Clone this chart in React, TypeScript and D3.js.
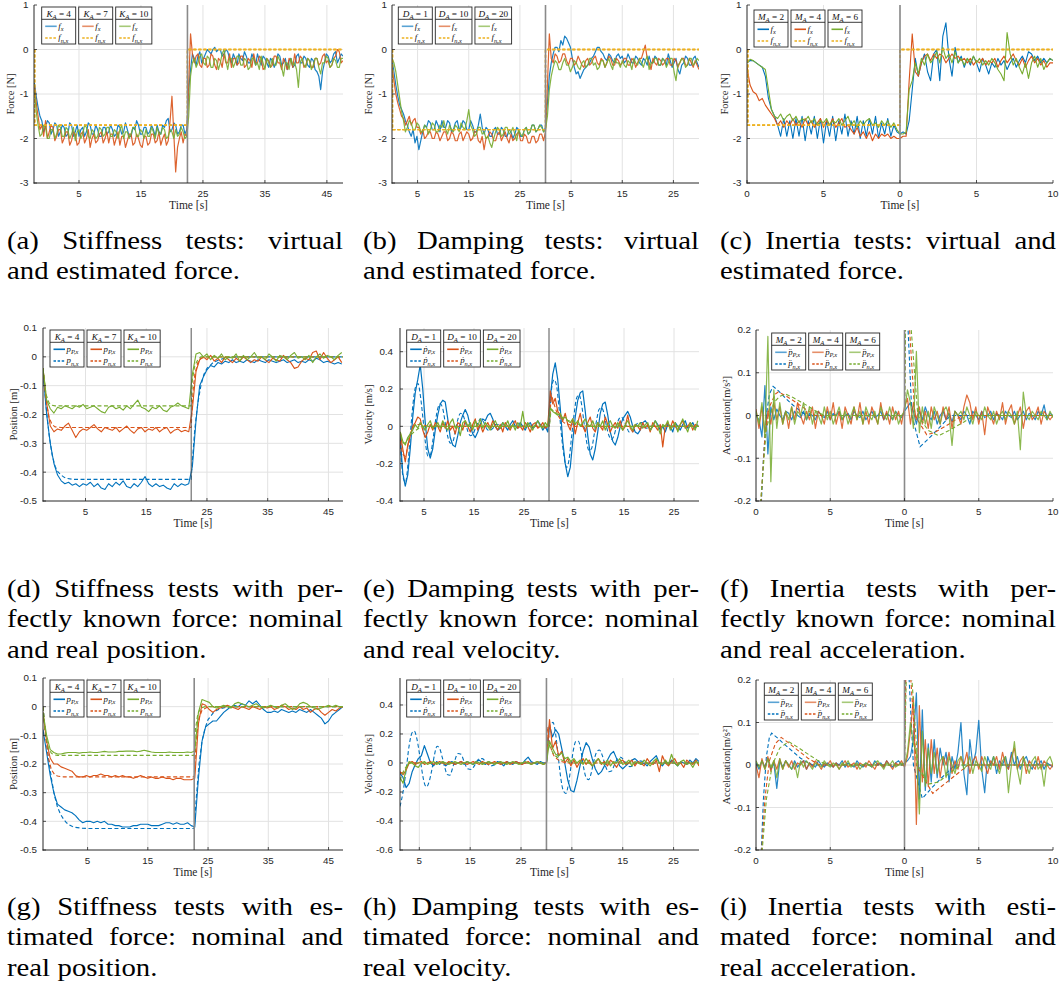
import React, { useEffect, useRef } from 'react';
import * as d3 from 'd3';

const BLUE = '#0072BD', ORANGE = '#D95319', YELLOW = '#EDB120', GREEN = '#77AC30';
const SERIF = '"Liberation Serif", "Times New Roman", serif';
const SANS = '"Liberation Sans", Arial, Helvetica, sans-serif';

// ---------- tick values / labels ----------
const xTicksLong = [5, 15, 25, 35, 45];
const xTickLabelsLong = ['5', '15', '25', '35', '45'];
const xTicksD = [5, 15, 25, 35, 45, 55];
const xTickLabelsD = ['5', '15', '25', '5', '15', '25'];
const xTicksM = [0, 5, 10, 15, 20];
const xTickLabelsM = ['0', '5', '0', '5', '10'];
const yTicksForce = [-3, -2, -1, 0, 1];
const yTicksPos = [-0.5, -0.4, -0.3, -0.2, -0.1, 0, 0.1];
const yTicksVelE = [-0.4, -0.2, 0, 0.2, 0.4];
const yTicksVelH = [-0.6, -0.4, -0.2, 0, 0.2, 0.4];
const yTicksAcc = [-0.2, -0.1, 0, 0.1, 0.2];

// switching instants (s)
const switchTimes = [22.5, 30, 10, 22.4, 30, 10, 22.7, 30, 10];
// legend parameter values
const kValues = [4, 7, 10];
const dValues = [1, 10, 20];
const mValues = [2, 4, 6];

// ---------- sampling [t0, dt] of measured series ----------
const sampA = [-2.2, 0.3];
const sampB = [0, 0.375];
const sampC = [0, 0.2];
const sampD = [-2, 0.6];
const sampE = [0.25, 0.5];
const sampF = [0, 0.2];
const sampG = [-2.4, 0.6];
const sampH = [1.2, 0.6];
const sampI = [0, 0.2];

// ---------- (a) stiffness, force ----------
const aBlue = [-0.75,-1.05,-1.3,-1.5,-1.6,-1.85,-1.75,-1.6,-1.65,-1.9,-1.8,-1.65,-1.7,-1.95,-1.85,-1.7,-1.75,-1.95,-1.9,-1.65,
 -1.7,-1.95,-1.85,-1.7,-1.95,-1.8,-1.75,-1.95,-1.85,-1.65,-1.7,-1.9,-1.9,-1.7,-1.8,-1.95,-1.95,-1.75,-1.75,-1.9,
 -1.85,-1.7,-1.8,-1.95,-1.9,-1.7,-1.75,-1.9,-1.85,-1.65,-1.8,-1.95,-1.95,-1.75,-1.8,-1.6,-1.7,-1.9,-1.9,-1.75,
 -1.75,-1.9,-1.85,-1.7,-1.8,-1.95,-1.7,-1.85,-1.9,-1.7,-1.75,-1.6,-1.55,-1.85,-1.8,-1.65,-1.7,-1.9,-1.85,-1.7,
 -1.7,-1.9,-1.8,-0.9,-0.45,-0.1,-0.2,-0.35,-0.15,-0.05,-0.3,-0.2,-0.1,0.0,-0.05,-0.1,0.0,0.05,-0.05,0.0,
 0.0,-0.15,-0.1,0.0,-0.05,-0.2,-0.3,-0.1,-0.2,-0.35,-0.1,-0.2,-0.25,-0.05,-0.15,-0.3,-0.3,-0.1,-0.2,-0.35,
 -0.1,-0.25,-0.35,-0.15,-0.2,-0.3,-0.4,-0.2,-0.25,-0.4,-0.3,-0.1,-0.15,-0.35,-0.3,-0.2,-0.45,-0.25,-0.2,-0.4,
 -0.35,-0.15,-0.1,-0.3,-0.3,-0.15,-0.2,-0.35,-0.4,-0.2,-0.25,-0.45,-0.5,-0.6,-0.9,-0.5,-0.3,-0.1,-0.15,-0.3,
 -0.25,-0.1,-0.05,-0.3,-0.2,-0.1,-0.15];
const aOrange = [-0.8,-1.2,-1.5,-1.8,-1.7,-1.95,-1.6,-2.0,-1.85,-1.7,-1.75,-2.05,-1.95,-1.8,-1.8,-2.1,-2.0,-1.85,-1.85,-2.15,
 -2.05,-1.85,-1.9,-2.15,-2.1,-1.9,-1.85,-2.1,-2.0,-1.8,-2.2,-2.0,-1.9,-2.1,-2.05,-1.9,-1.85,-2.1,-2.0,-1.85,
 -2.1,-1.9,-1.9,-2.15,-2.0,-1.85,-2.15,-1.95,-1.95,-2.2,-2.05,-1.9,-1.9,-2.15,-2.1,-1.9,-2.0,-2.15,-2.2,-1.95,
 -1.95,-2.15,-2.1,-1.9,-1.9,-2.1,-2.05,-1.85,-2.15,-2.0,-1.9,-2.15,-2.05,-1.6,-1.05,-1.9,-2.75,-2.2,-2.0,-1.85,
 -2.1,-1.9,-1.95,-0.8,0.35,-0.1,-0.3,-0.15,-0.1,-0.35,-0.4,-0.2,-0.2,-0.4,-0.35,-0.1,-0.15,-0.35,-0.45,-0.2,
 -0.25,-0.4,-0.1,-0.3,-0.3,-0.1,-0.4,-0.2,-0.2,-0.35,-0.3,-0.15,-0.15,-0.4,-0.35,-0.2,-0.25,-0.4,-0.1,-0.3,
 -0.3,-0.15,-0.2,-0.45,-0.4,-0.2,-0.25,-0.4,-0.35,-0.15,-0.15,-0.3,-0.3,-0.45,-0.2,-0.3,-0.45,-0.2,-0.25,-0.4,
 -0.1,-0.3,-0.3,-0.15,-0.2,-0.4,-0.35,-0.2,-0.25,-0.4,-0.4,-0.2,-0.2,-0.35,-0.3,-0.15,-0.1,-0.3,-0.25,-0.4,
 -0.35,-0.2,-0.15,0.0,-0.05,-0.3,-0.25];
const aGreen = [-0.9,-1.4,-1.7,-1.95,-1.9,-1.7,-1.75,-2.0,-2.0,-1.8,-1.8,-2.0,-1.9,-1.7,-1.75,-1.95,-1.95,-1.75,-1.8,-2.0,
 -1.9,-1.75,-2.05,-1.85,-1.8,-2.0,-1.9,-1.7,-1.75,-1.95,-2.0,-1.8,-1.85,-2.0,-1.95,-1.75,-1.8,-1.95,-1.9,-1.75,
 -1.75,-1.95,-1.95,-1.8,-1.85,-2.0,-1.8,-1.7,-2.0,-1.85,-1.85,-2.0,-1.9,-1.75,-1.75,-1.95,-1.95,-1.8,-1.85,-2.0,
 -1.8,-1.95,-1.95,-1.75,-1.85,-2.0,-1.75,-1.9,-1.9,-1.75,-1.8,-2.0,-1.95,-1.8,-1.85,-2.0,-1.8,-1.95,-1.9,-1.75,
 -1.85,-2.0,-1.95,-1.5,-0.6,-0.3,-0.2,-0.4,-0.3,-0.15,-0.1,-0.3,-0.35,-0.15,-0.2,-0.4,-0.4,-0.2,-0.25,-0.45,
 -0.3,-0.1,0.0,-0.25,-0.45,-0.2,-0.2,-0.4,-0.3,-0.15,-0.15,-0.35,-0.35,-0.2,-0.25,-0.45,-0.4,-0.2,-0.2,-0.35,
 -0.3,-0.45,-0.15,-0.3,-0.45,-0.2,-0.3,-0.4,-0.2,-0.35,-0.35,-0.15,-0.25,-0.4,-0.6,-0.3,-0.3,-0.45,-0.2,-0.35,
 -0.3,-0.45,-0.85,-0.3,-0.2,-0.35,-0.4,-0.2,-0.25,-0.45,-0.35,-0.2,-0.2,-0.4,-0.55,-0.3,-0.3,-0.15,-0.2,-0.4,
 -0.35,-0.2,-0.25,-0.4,-0.4,-0.2,-0.2];
const aNominal = [[-2.15, 0], [-2.15, -1.7], [22.5, -1.7], [22.5, 0], [47.6, 0]];

// ---------- (b) damping, force ----------
const bBlue = [-0.2,-0.5,-0.8,-1.05,-1.25,-1.35,-1.45,-1.6,-1.7,-1.85,-1.95,-1.8,-2.1,-1.95,-2.25,-2.05,-1.85,-1.7,-1.75,-1.6,
 -1.65,-1.8,-1.8,-1.6,-1.7,-1.85,-1.6,-1.75,-1.75,-1.6,-1.65,-1.85,-1.8,-1.65,-1.6,-1.8,-1.75,-1.6,-1.65,-1.8,
 -1.8,-1.6,-1.7,-1.85,-1.85,-1.7,-1.45,-1.75,-1.9,-1.75,-1.8,-1.95,-1.95,-1.8,-1.75,-1.9,-1.9,-1.75,-1.8,-1.95,
 -1.95,-1.8,-1.85,-2.0,-1.9,-1.75,-1.8,-1.95,-1.95,-1.8,-1.75,-1.9,-1.85,-1.7,-1.7,-1.85,-1.8,-1.7,-1.7,-1.85,
 -1.75,-1.2,-0.6,-0.3,-0.1,0.05,0.05,-0.05,0.2,0.1,0.3,0.25,0.15,0.05,-0.2,-0.4,-0.55,-0.5,-0.65,-0.55,
 -0.45,-0.4,-0.35,-0.3,-0.2,-0.15,-0.05,0.05,0.05,-0.05,-0.1,-0.2,-0.25,-0.1,-0.15,-0.25,-0.3,-0.15,-0.1,-0.2,
 -0.15,-0.3,-0.25,-0.1,-0.2,-0.3,-0.3,-0.15,-0.2,-0.3,-0.35,-0.2,-0.25,-0.35,-0.15,-0.3,-0.3,-0.15,-0.2,-0.35,
 -0.35,-0.2,-0.25,-0.35,-0.1,-0.25,-0.4,-0.3,-0.2,-0.45,-0.55,-0.35,-0.3,-0.15,-0.2,-0.35,-0.35,-0.2,-0.15,-0.3,
 -0.4];
const bOrange = [-0.4,-0.7,-1.0,-1.2,-1.35,-1.5,-1.55,-1.7,-1.6,-1.5,-1.7,-1.6,-1.55,-1.75,-1.75,-1.9,-1.8,-2.0,-1.95,-1.85,
 -1.85,-2.0,-2.0,-1.85,-1.9,-2.05,-1.95,-1.85,-1.85,-2.05,-2.0,-1.85,-1.9,-2.05,-2.05,-1.9,-1.85,-2.05,-1.95,-1.85,
 -1.9,-2.05,-2.0,-1.85,-1.85,-2.05,-2.1,-1.95,-2.25,-2.0,-1.95,-1.85,-1.9,-2.05,-2.05,-1.9,-1.85,-2.05,-1.95,-1.85,
 -2.0,-2.1,-1.9,-2.05,-2.0,-1.9,-1.85,-2.05,-2.05,-1.9,-1.95,-2.1,-2.1,-1.95,-1.95,-2.1,-2.05,-1.9,-1.9,-2.05,
 -1.85,-0.8,0.35,-0.2,-0.3,-0.1,-0.15,-0.3,-0.25,-0.1,-0.1,-0.25,-0.35,-0.2,-0.2,-0.35,-0.3,-0.15,-0.25,-0.35,
 -0.4,-0.25,-0.2,-0.35,-0.3,-0.2,-0.15,-0.3,-0.35,-0.2,-0.25,-0.4,-0.3,-0.15,-0.2,-0.35,-0.35,-0.2,-0.25,-0.35,
 -0.3,-0.2,-0.2,-0.35,-0.35,-0.2,-0.25,-0.4,-0.3,-0.2,-0.2,-0.05,0.1,-0.2,-0.3,-0.45,-0.2,-0.3,-0.35,-0.2,
 -0.25,-0.35,-0.3,-0.2,-0.2,-0.35,-0.35,-0.2,-0.25,-0.4,-0.3,-0.2,-0.2,-0.35,-0.35,-0.2,-0.3,-0.4,-0.25,-0.35,
 -0.45];
const bGreen = [-0.2,-0.3,-0.5,-0.8,-1.1,-1.4,-1.6,-1.85,-1.75,-1.6,-1.65,-1.8,-1.8,-1.65,-1.7,-1.85,-1.85,-1.7,-1.75,-1.9,
 -1.8,-1.65,-1.7,-1.85,-1.85,-1.7,-1.75,-1.6,-1.8,-1.9,-1.7,-1.8,-1.85,-1.7,-1.75,-1.85,-1.65,-1.75,-1.8,-1.6,
 -1.35,-1.7,-1.8,-1.95,-1.9,-1.75,-1.75,-1.9,-1.85,-2.0,-1.95,-2.1,-2.2,-2.0,-1.85,-1.75,-1.8,-1.95,-1.9,-1.75,
 -1.75,-1.9,-1.85,-1.75,-1.9,-2.05,-1.8,-1.9,-1.95,-1.8,-1.75,-1.9,-1.85,-1.7,-1.7,-1.85,-1.8,-1.7,-1.75,-1.85,
 -1.8,-1.5,-0.9,-0.6,-0.4,-0.25,-0.3,-0.45,-0.45,-0.3,-0.2,-0.35,-0.35,-0.5,-0.4,-0.25,-0.3,-0.4,-0.45,-0.3,
 -0.25,-0.4,-0.35,-0.2,-0.2,-0.35,-0.3,-0.45,-0.4,-0.25,-0.25,-0.4,-0.3,-0.2,-0.35,-0.45,-0.2,-0.3,-0.3,-0.4,
 -0.25,-0.35,-0.4,-0.25,-0.3,-0.45,-0.2,-0.3,-0.35,-0.2,-0.3,-0.4,-0.25,-0.15,-0.45,-0.3,-0.3,-0.2,-0.2,-0.35,
 -0.35,-0.2,-0.25,-0.4,-0.3,-0.2,-0.2,-0.5,-0.7,-0.35,-0.3,-0.2,-0.25,-0.4,-0.35,-0.2,-0.2,-0.35,-0.3,-0.2,
 -0.25];
const bNominal = [[0.1, 0], [0.1, -1.8], [30, -1.8], [30, 0], [60, 0]];

// ---------- (c) inertia, force ----------
const cBlue = [-0.3,-0.25,-0.25,-0.3,-0.35,-0.4,-0.6,-1.1,-1.35,-1.5,
 -1.7,-1.95,-1.55,-1.95,-1.6,-2.0,-1.55,-1.95,-1.5,-2.05,
 -1.6,-1.9,-1.5,-2.0,-1.55,-2.1,-1.6,-1.95,-1.5,-2.05,
 -1.6,-1.9,-1.45,-1.95,-1.6,-1.9,-1.5,-2.0,-1.6,-1.95,
 -1.55,-1.9,-1.5,-2.0,-1.65,-1.9,-1.55,-1.95,-1.7,-1.85,
 -1.9,-1.85,-1.9,-1.6,-0.9,-0.2,-0.6,-0.3,-0.1,-0.5,
 -0.7,-0.1,0.0,-0.7,0.3,0.6,-0.2,-0.6,0.05,-0.3,
 -0.15,-0.4,-0.2,-0.35,-0.15,-0.3,-0.5,-0.2,-0.35,-0.55,
 -0.3,-0.4,-0.2,-0.35,-0.25,-0.45,-0.3,-0.2,-0.4,-0.25,
 -0.15,-0.3,-0.05,-0.1,-0.25,-0.15,-0.3,-0.2,-0.3,-0.2,
 -0.25];
const cOrange = [-0.4,-0.8,-0.95,-1.0,-1.15,-1.1,-1.25,-1.35,-1.45,-1.55,
 -1.7,-1.6,-1.75,-1.6,-1.7,-1.55,-1.7,-1.6,-1.75,-1.55,
 -1.7,-1.6,-1.75,-1.65,-1.55,-1.75,-1.6,-1.7,-1.55,-1.75,
 -1.65,-1.55,-1.75,-1.7,-1.8,-1.9,-1.75,-1.95,-1.85,-2.0,
 -1.85,-2.05,-1.9,-2.0,-1.9,-1.95,-1.9,-2.0,-1.95,-2.0,
 -2.0,-1.95,-1.95,-0.7,0.35,-0.5,-0.6,-0.3,-0.15,-0.1,
 -0.25,-0.1,-0.2,-0.1,-0.15,-0.3,-0.2,-0.1,-0.2,-0.15,
 -0.25,-0.2,-0.3,-0.2,-0.35,-0.25,-0.3,-0.2,-0.35,-0.25,
 -0.3,-0.2,-0.4,-0.25,-0.15,-0.3,-0.2,-0.1,-0.25,-0.35,
 -0.2,-0.4,-0.25,-0.15,-0.3,-0.2,-0.35,-0.25,-0.4,-0.3,
 -0.3];
const cGreen = [-0.3,-0.22,-0.25,-0.3,-0.35,-0.4,-0.45,-0.9,-1.35,-1.5,
 -1.55,-1.45,-1.6,-1.5,-1.45,-1.6,-1.5,-1.65,-1.55,-1.6,
 -1.5,-1.65,-1.55,-1.7,-1.6,-1.65,-1.55,-1.7,-1.6,-1.65,
 -1.55,-1.7,-1.6,-1.5,-1.7,-1.6,-1.75,-1.6,-1.7,-1.6,
 -1.55,-1.7,-1.65,-1.75,-1.6,-1.7,-1.6,-1.75,-1.65,-1.8,
 -1.9,-1.9,-1.85,-0.9,-0.7,-0.3,-0.55,-0.2,-0.35,-0.1,
 -0.3,-0.2,-0.05,-0.3,0.05,-0.2,-0.1,-0.3,-0.05,-0.3,
 -0.2,-0.35,-0.2,-0.3,-0.15,-0.3,-0.2,-0.35,-0.25,-0.35,
 -0.2,-0.3,-0.45,-0.55,-0.7,0.38,-0.1,-0.35,-0.2,-0.4,
 -0.55,-0.3,-0.65,-0.3,-0.15,-0.4,-0.2,-0.45,-0.3,-0.2,
 -0.25];
const cNominal = [[0.05, 0], [0.05, -1.7], [10, -1.7], [10, 0], [20, 0]];

// ---------- (d) stiffness, position (known force) ----------
const dBlue = [-0.05,-0.2,-0.3,-0.37,-0.41,-0.43,-0.44,-0.435,-0.445,-0.44,
 -0.45,-0.44,-0.445,-0.435,-0.45,-0.44,-0.455,-0.46,-0.44,-0.45,
 -0.435,-0.445,-0.43,-0.45,-0.455,-0.44,-0.45,-0.435,-0.415,-0.44,
 -0.45,-0.44,-0.45,-0.445,-0.455,-0.46,-0.44,-0.45,-0.44,-0.445,
 -0.44,-0.38,-0.22,-0.1,-0.07,-0.045,-0.03,-0.035,-0.02,-0.025,
 -0.015,-0.02,-0.01,-0.02,-0.015,-0.02,-0.01,-0.015,-0.02,-0.01,
 -0.015,-0.02,-0.01,-0.015,-0.02,-0.015,-0.01,-0.02,-0.015,-0.01,
 -0.02,-0.015,-0.02,-0.01,-0.015,-0.005,-0.01,-0.02,-0.015,-0.02,
 -0.025,-0.02,-0.025];
const dOrange = [-0.04,-0.16,-0.24,-0.26,-0.25,-0.255,-0.24,-0.23,-0.255,-0.28,
 -0.26,-0.25,-0.255,-0.245,-0.235,-0.25,-0.26,-0.245,-0.25,-0.255,
 -0.245,-0.26,-0.25,-0.24,-0.255,-0.265,-0.25,-0.245,-0.26,-0.25,
 -0.255,-0.245,-0.26,-0.25,-0.245,-0.265,-0.255,-0.25,-0.26,-0.255,
 -0.26,-0.18,-0.05,-0.01,0.0,-0.01,0.005,-0.015,-0.005,-0.02,
 0.0,-0.01,-0.02,-0.005,-0.015,0.0,-0.01,-0.02,-0.01,-0.015,
 0.0,-0.01,-0.02,-0.005,-0.01,-0.015,0.005,-0.01,-0.02,-0.04,
 -0.035,-0.015,-0.005,-0.01,0.015,0.02,-0.01,0.015,-0.005,-0.02,
 -0.01,0.0,-0.02];
const dGreen = [-0.04,-0.15,-0.18,-0.195,-0.175,-0.18,-0.17,-0.175,-0.18,-0.17,
 -0.175,-0.165,-0.18,-0.175,-0.17,-0.18,-0.19,-0.195,-0.175,-0.17,
 -0.18,-0.175,-0.185,-0.17,-0.18,-0.165,-0.15,-0.175,-0.18,-0.19,
 -0.175,-0.18,-0.17,-0.185,-0.19,-0.175,-0.17,-0.16,-0.17,-0.175,
 -0.18,-0.06,0.01,0.015,0.0,0.01,-0.01,0.005,-0.005,0.01,
 -0.01,0.0,-0.005,0.01,-0.015,0.005,-0.01,0.0,0.015,-0.005,
 0.0,-0.01,0.01,0.0,-0.015,0.005,0.0,-0.01,0.005,0.015,
 -0.005,0.0,-0.01,0.005,-0.02,0.0,0.01,-0.005,0.005,0.0,
 -0.01,0.005,0.015];
const dNomBlue = [[-2,-0.04],[-1.5,-0.17],[-1,-0.27],[-0.5,-0.34],[0,-0.38],[0.5,-0.4],[1,-0.41],[1.5,-0.418],[2,-0.422],[3,-0.425],[22.4,-0.425],[22.6,-0.36],[23,-0.25],[23.5,-0.16],[24,-0.1],[24.5,-0.06],[25,-0.04],[26,-0.02],[27,-0.01],[28,-0.004],[30,0],[47.4,0]];
const dNomOrange = [[-2,-0.04],[-1.5,-0.15],[-1,-0.21],[-0.5,-0.235],[0,-0.243],[1,-0.245],[22.4,-0.245],[22.7,-0.12],[23,-0.06],[23.5,-0.02],[24,-0.005],[25,0],[47.4,0]];
const dNomGreen = [[-2,-0.04],[-1.5,-0.13],[-1,-0.16],[-0.5,-0.168],[0,-0.17],[22.4,-0.17],[22.6,-0.08],[23,-0.03],[23.5,-0.01],[24,0],[47.4,0]];

// ---------- (e) damping, velocity (known force) ----------
const eBlue = [-0.05,-0.25,-0.32,-0.26,-0.12,0.05,0.18,0.25,0.33,0.2,
 0.02,-0.12,-0.17,-0.12,-0.02,0.06,0.12,0.14,0.13,0.04,
 -0.06,-0.1,-0.11,-0.05,0.02,0.06,0.09,0.06,0.0,-0.04,
 -0.06,-0.03,0.01,0.04,0.03,0.06,0.07,0.04,0.0,-0.02,
 -0.01,0.02,0.0,-0.02,0.01,0.03,0.0,-0.01,0.02,0.0,
 -0.02,0.01,0.02,-0.01,0.0,0.03,0.01,-0.02,0.0,-0.03,
 0.15,0.28,0.34,0.25,0.1,-0.08,-0.2,-0.27,-0.22,-0.08,
 0.05,0.14,0.18,0.19,0.08,-0.05,-0.15,-0.18,-0.12,-0.03,
 0.07,0.12,0.13,0.06,-0.03,-0.08,-0.1,-0.06,0.0,0.04,
 0.06,0.08,0.05,0.0,-0.03,-0.04,-0.02,0.02,0.03,0.01,
 -0.02,0.0,0.03,0.01,-0.02,0.0,-0.03,0.01,0.0,-0.03,
 0.02,0.0,-0.02,0.01,0.03,-0.01,0.0,0.02,-0.01,0.01];
const eOrange = [-0.03,-0.12,-0.19,-0.1,-0.05,0.0,0.02,0.05,0.04,-0.02,
 -0.06,-0.03,0.01,-0.02,0.02,0.0,-0.03,0.02,-0.01,0.03,
 -0.02,0.0,-0.04,0.02,0.01,-0.02,0.03,0.0,-0.03,0.01,
 0.04,-0.02,0.01,-0.03,0.0,0.02,-0.01,0.03,0.0,-0.02,
 0.01,-0.03,0.02,0.0,-0.02,0.01,0.03,-0.01,0.0,-0.02,
 0.02,0.0,-0.03,0.01,0.02,-0.01,0.0,0.02,-0.01,0.0,
 0.19,0.12,0.15,0.08,0.06,0.03,0.07,0.01,-0.02,0.04,
 -0.04,0.02,0.07,0.0,-0.03,0.02,0.05,-0.01,-0.03,0.02,
 0.0,-0.02,0.05,0.01,-0.03,0.0,0.02,-0.01,0.03,-0.02,
 0.0,0.06,-0.01,-0.03,0.01,0.0,-0.02,0.02,-0.01,0.01,
 -0.03,0.02,0.0,-0.02,0.01,-0.11,0.0,0.02,-0.01,0.03,
 0.0,-0.02,0.01,0.03,-0.01,0.0,0.02,-0.02,0.01,0.0];
const eGreen = [-0.03,-0.08,-0.1,-0.06,-0.04,-0.02,0.01,-0.01,0.02,0.0,
 -0.02,0.01,0.03,-0.01,0.0,0.02,-0.01,0.03,0.0,-0.02,
 0.02,0.04,-0.01,0.0,-0.05,0.02,0.03,0.0,0.02,-0.02,
 0.03,0.0,0.04,-0.01,0.02,0.0,-0.02,0.01,0.03,0.0,
 -0.01,0.02,0.0,0.03,-0.01,0.01,-0.02,0.02,0.0,0.08,
 -0.01,0.02,0.0,-0.02,0.01,0.03,0.0,-0.01,0.02,0.0,
 0.1,0.08,0.07,0.06,0.07,0.04,0.05,0.03,0.02,0.04,
 0.01,0.03,0.0,0.02,0.04,0.01,0.0,0.03,-0.01,0.02,
 0.0,0.03,-0.02,0.01,0.03,0.0,-0.01,0.02,0.0,-0.02,
 0.01,0.03,0.0,-0.02,0.01,0.0,0.02,-0.01,0.01,0.02,
 -0.02,0.0,0.03,0.0,-0.04,0.01,0.0,0.03,-0.02,0.0,
 0.02,-0.03,0.01,0.04,0.0,-0.03,0.02,0.0,-0.02,0.03];
const eNomBlue = [[0.3,-0.1],[0.8,-0.27],[1.3,-0.3],[1.8,-0.2],[2.3,-0.03],[2.8,0.12],[3.3,0.21],[3.8,0.23],[4.3,0.16],[4.8,0.04],[5.3,-0.09],[5.8,-0.16],[6.3,-0.15],[6.8,-0.07],[7.3,0.03],[7.8,0.1],[8.3,0.12],[8.8,0.09],[9.3,0.01],[9.8,-0.06],[10.3,-0.09],[10.8,-0.08],[11.3,-0.02],[11.8,0.04],[12.3,0.07],[12.8,0.06],[13.3,0.02],[13.8,-0.03],[14.3,-0.05],[14.8,-0.04],[15.3,-0.01],[15.8,0.02],[16.3,0.04],[16.8,0.03],[17.3,0],[17.8,-0.02],[18.3,-0.02],[18.8,-0.01],[19.3,0.01],[19.8,0.01],[20.5,0],[30,0],[30.5,0.2],[31,0.25],[31.5,0.22],[32,0.1],[32.5,-0.05],[33,-0.16],[33.5,-0.22],[34,-0.18],[34.5,-0.06],[35,0.06],[35.5,0.15],[36,0.17],[36.5,0.12],[37,0.02],[37.5,-0.08],[38,-0.13],[38.5,-0.12],[39,-0.05],[39.5,0.03],[40,0.09],[40.5,0.1],[41,0.07],[41.5,0],[42,-0.05],[42.5,-0.07],[43,-0.05],[43.5,0],[44,0.04],[44.5,0.05],[45,0.03],[45.5,0],[46,-0.03],[46.5,-0.03],[47,-0.02],[47.5,0.01],[48,0.02],[48.5,0.02],[49,0],[49.5,-0.01],[50,0],[60,0]];
const eNomOrange = [[0.3,-0.08],[0.8,-0.15],[1.3,-0.16],[1.8,-0.1],[2.3,-0.04],[3,0],[3.5,0.01],[4.5,0.01],[6,0],[30,0],[30.5,0.16],[31,0.12],[31.5,0.08],[32,0.05],[33,0.02],[34,0.01],[35,0],[60,0]];
const eNomGreen = [[0.3,-0.05],[1,-0.09],[1.5,-0.08],[2,-0.06],[3,-0.03],[4,-0.01],[5,0],[30,0],[30.5,0.09],[31,0.08],[32,0.06],[33,0.04],[34,0.03],[35,0.02],[36,0.01],[38,0],[60,0]];

// ---------- (f) inertia, acceleration (known force) ----------
const fBlue = [0.0,-0.01,-0.05,0.07,-0.09,0.02,-0.01,0.015,0.0,-0.01,
 0.01,0.005,-0.01,0.01,0.0,-0.005,0.01,-0.01,0.005,0.0,
 -0.01,0.01,0.0,-0.005,0.01,-0.01,0.005,0.0,0.01,-0.01,
 0.0,0.005,-0.01,0.01,0.0,-0.005,0.01,-0.01,0.0,0.01,
 -0.005,0.0,0.01,-0.01,0.005,0.0,-0.01,0.01,0.0,-0.005,
 0.01,0.02,0.03,0.01,-0.02,0.01,-0.01,0.02,0.0,-0.01,
 0.01,-0.02,0.0,0.01,-0.01,0.005,-0.015,0.01,0.0,-0.01,
 0.01,0.0,-0.02,0.01,0.0,-0.01,0.01,-0.005,0.0,0.01,
 -0.01,0.005,0.0,-0.01,0.01,0.0,-0.005,0.01,-0.01,0.0,
 0.01,-0.01,0.005,0.0,-0.01,0.01,0.0,0.025,-0.01,0.005,
 0.0];
const fOrange = [0.015,-0.03,0.02,-0.04,0.01,-0.02,0.03,-0.01,0.02,-0.02,
 0.01,-0.03,0.02,-0.01,0.03,0.0,-0.02,0.01,-0.01,0.02,
 -0.03,0.01,0.0,-0.02,0.02,-0.01,0.03,-0.02,0.01,-0.03,
 0.02,0.0,-0.02,0.02,-0.01,0.03,-0.02,0.01,-0.02,0.02,
 0.0,-0.02,0.03,-0.01,0.01,-0.02,0.02,-0.01,0.01,-0.02,
 0.02,0.04,-0.02,0.03,-0.01,0.02,-0.02,0.01,-0.03,0.02,
 -0.01,0.01,-0.02,0.02,-0.01,0.02,-0.03,0.01,0.0,-0.02,
 0.02,0.048,0.03,-0.01,0.02,-0.02,0.01,-0.045,0.02,0.0,
 -0.02,0.01,-0.01,0.03,-0.02,0.01,0.025,-0.02,0.0,0.02,
 -0.03,0.01,0.02,-0.01,0.0,0.02,-0.02,0.01,0.0,-0.01,
 0.0];
const fGreen = [0.01,-0.02,0.03,-0.05,0.185,-0.155,0.06,-0.03,0.03,-0.02,
 0.01,-0.01,0.02,-0.02,0.01,0.0,0.03,-0.01,0.02,-0.02,
 0.01,0.0,-0.02,0.02,-0.01,0.01,-0.02,0.0,0.02,-0.01,
 0.01,-0.02,0.0,0.02,-0.01,0.01,-0.02,0.02,0.0,-0.01,
 0.01,-0.02,0.02,0.0,-0.01,0.02,-0.01,0.01,-0.02,0.0,
 0.01,0.06,0.03,-0.03,0.15,-0.04,0.02,-0.02,0.01,-0.03,
 0.02,0.0,-0.02,0.01,0.02,0.0,-0.07,0.01,0.0,0.01,
 -0.01,0.02,0.0,-0.02,0.01,0.0,-0.01,0.02,0.0,-0.01,
 0.01,-0.02,0.0,0.01,-0.01,0.01,0.0,-0.02,0.01,-0.08,
 0.055,0.0,-0.01,0.01,0.0,-0.01,0.01,0.0,-0.01,0.01,
 -0.005];
const fNomBlue = [[0.3,-0.25],[0.5,-0.1],[0.7,0.0],[0.9,0.05],[1.15,0.068],[1.5,0.058],[2.0,0.04],[2.5,0.024],[3.0,0.01],[3.4,0.0],[10.0,0.0],[10.05,0.35],[10.5,0.0],[11.05,-0.073],[11.6,-0.055],[12.3,-0.03],[13.1,0.0],[20,0]];
const fNomOrange = [[0.25,-0.25],[0.6,-0.05],[0.9,0.02],[1.3,0.05],[1.5,0.055],[2.0,0.046],[2.5,0.035],[3.0,0.023],[3.5,0.011],[4.0,0.0],[10.0,0],[10.08,0.35],[10.7,0.0],[11.5,-0.045],[12.0,-0.04],[13.0,-0.02],[13.9,0.0],[20,0]];
const fNomGreen = [[0.2,-0.25],[0.7,-0.03],[1.2,0.03],[1.6,0.045],[2.0,0.05],[2.5,0.042],[3.0,0.032],[3.5,0.022],[4.0,0.011],[4.6,0.0],[10,0],[10.12,0.35],[10.9,0.0],[11.6,-0.035],[12.3,-0.047],[13,-0.035],[14,-0.015],[14.7,0.0],[20,0]];

// ---------- (g) stiffness, position (estimated force) ----------
const gBlue = [-0.08,-0.16,-0.24,-0.3,-0.34,-0.35,-0.36,-0.365,-0.37,-0.38,
 -0.395,-0.405,-0.4,-0.4,-0.405,-0.4,-0.405,-0.4,-0.41,-0.41,
 -0.415,-0.415,-0.42,-0.42,-0.42,-0.415,-0.415,-0.41,-0.41,-0.41,
 -0.415,-0.415,-0.415,-0.41,-0.405,-0.405,-0.41,-0.405,-0.41,-0.41,
 -0.405,-0.415,-0.42,-0.25,-0.12,-0.07,-0.06,-0.05,-0.05,-0.035,
 -0.02,-0.01,0.0,0.005,0.0,0.01,0.005,0.02,0.01,0.02,
 0.005,-0.01,-0.02,-0.02,-0.015,-0.02,-0.01,-0.015,-0.02,-0.015,
 -0.02,-0.01,-0.015,-0.02,-0.01,-0.02,-0.03,-0.04,-0.06,-0.05,
 -0.03,-0.02,-0.01,0.0];
const gOrange = [-0.02,-0.12,-0.18,-0.2,-0.2,-0.21,-0.215,-0.22,-0.225,-0.24,
 -0.245,-0.245,-0.24,-0.245,-0.24,-0.24,-0.235,-0.24,-0.24,-0.245,
 -0.24,-0.245,-0.24,-0.245,-0.245,-0.25,-0.245,-0.24,-0.245,-0.25,
 -0.245,-0.25,-0.25,-0.245,-0.25,-0.25,-0.255,-0.25,-0.25,-0.255,
 -0.255,-0.255,-0.25,-0.06,0.01,0.005,-0.01,-0.02,-0.01,-0.005,
 0.0,0.005,0.0,-0.005,-0.01,0.0,-0.005,-0.01,0.0,-0.005,
 -0.01,0.0,-0.005,0.0,-0.01,-0.005,0.005,0.0,-0.01,-0.005,
 -0.01,0.0,-0.01,-0.005,-0.02,-0.01,-0.005,-0.02,-0.03,-0.02,
 -0.01,-0.015,-0.005,0.0];
const gGreen = [-0.02,-0.1,-0.15,-0.16,-0.165,-0.165,-0.162,-0.16,-0.16,-0.16,
 -0.162,-0.16,-0.16,-0.158,-0.16,-0.16,-0.158,-0.156,-0.158,-0.158,
 -0.158,-0.156,-0.156,-0.155,-0.155,-0.155,-0.157,-0.155,-0.152,-0.155,
 -0.158,-0.16,-0.16,-0.16,-0.16,-0.158,-0.16,-0.16,-0.16,-0.16,
 -0.158,-0.16,-0.155,-0.02,0.025,0.02,0.015,0.0,-0.005,0.0,
 0.005,0.0,-0.005,0.01,0.015,0.01,0.005,0.0,0.005,0.01,
 0.0,-0.005,0.0,0.005,0.0,-0.005,0.005,0.01,0.0,-0.01,
 -0.005,0.01,0.015,0.01,0.0,-0.005,-0.01,-0.005,0.0,0.005,
 0.0,0.005,0.0,0.0];
const gNomBlue = [[-2.4,0],[-2.0,-0.09],[-1.5,-0.18],[-1.0,-0.25],[-0.5,-0.31],[0,-0.35],[0.5,-0.375],[1,-0.392],[1.5,-0.405],[2,-0.413],[2.5,-0.418],[3,-0.421],[4,-0.424],[5,-0.425],[22.7,-0.425],[23,-0.33],[23.5,-0.2],[24,-0.12],[24.5,-0.075],[25,-0.045],[26,-0.018],[27,-0.007],[28,-0.002],[30,0],[47.4,0]];
const gNomOrange = [[-2.4,0],[-2.0,-0.1],[-1.5,-0.18],[-1.0,-0.22],[-0.5,-0.236],[0,-0.242],[1,-0.245],[22.7,-0.245],[23,-0.12],[23.5,-0.04],[24,-0.012],[25,0],[47.4,0]];
const gNomGreen = [[-2.4,0],[-2.0,-0.09],[-1.5,-0.145],[-1.0,-0.163],[-0.5,-0.168],[0,-0.17],[22.7,-0.17],[22.9,-0.08],[23.3,-0.025],[23.8,-0.005],[24.5,0],[47.4,0]];

// ---------- (h) damping, velocity (estimated force) ----------
const hBlue = [-0.07,-0.1,-0.17,-0.14,-0.06,-0.01,0.03,0.05,0.12,0.06,
 0.0,-0.02,0.01,-0.01,0.01,-0.02,0.0,0.01,-0.01,0.0,
 0.01,-0.01,0.01,0.0,-0.01,0.01,0.02,0.0,-0.01,0.01,
 0.0,-0.01,0.01,0.0,-0.02,0.01,0.0,-0.01,0.01,0.0,
 -0.01,0.02,0.04,0.01,0.0,-0.01,0.01,0.0,0.0,0.26,
 0.18,0.23,0.2,0.1,0.0,-0.12,-0.19,-0.2,-0.12,-0.02,
 0.08,0.14,0.11,0.03,-0.04,-0.08,-0.06,-0.02,0.02,0.06,
 0.08,0.03,-0.02,-0.04,-0.02,0.0,0.02,0.03,0.01,-0.01,
 0.0,-0.02,0.01,0.03,0.05,0.0,-0.02,0.01,-0.01,0.02,
 0.0,-0.02,0.01,0.0,-0.01,0.02,0.0,0.03,0.01];
const hOrange = [-0.06,-0.08,-0.05,0.0,0.01,-0.01,0.0,0.01,-0.01,0.0,
 0.01,-0.01,0.0,0.01,0.0,-0.01,0.01,0.0,-0.01,0.0,
 0.01,0.0,-0.01,0.0,0.01,0.0,-0.01,0.01,0.0,-0.01,
 0.0,0.01,0.0,-0.01,0.0,0.01,-0.01,0.0,0.01,0.0,
 -0.01,0.0,0.01,-0.01,0.0,0.01,0.0,-0.01,0.0,0.3,
 0.1,0.15,0.05,0.08,0.0,0.03,-0.02,0.02,-0.03,0.01,
 0.03,-0.01,0.02,-0.02,0.0,0.03,-0.01,0.01,-0.02,0.02,
 0.0,-0.03,0.01,0.02,-0.01,0.0,0.02,-0.02,0.01,0.0,
 -0.02,0.03,0.0,-0.01,0.02,-0.06,0.05,0.0,-0.02,0.01,
 0.03,-0.01,0.0,-0.03,0.02,0.0,-0.01,0.02,-0.02];
const hGreen = [-0.1,-0.14,-0.04,0.01,0.0,-0.02,-0.03,0.0,0.01,-0.01,
 0.0,0.01,-0.01,0.0,0.01,0.0,-0.01,0.0,0.01,0.0,
 -0.01,0.0,0.01,0.0,-0.01,0.01,0.0,-0.01,0.0,0.01,
 0.0,-0.01,0.0,0.01,0.0,-0.01,0.0,0.01,0.0,-0.01,
 0.0,0.01,0.0,-0.01,0.0,0.01,0.0,-0.01,0.0,0.15,
 0.1,0.06,0.05,0.07,0.03,0.04,0.01,0.03,0.0,0.02,
 -0.01,0.03,0.0,-0.02,0.01,0.03,0.0,-0.01,0.02,-0.02,
 0.01,0.0,0.03,-0.01,0.0,0.02,-0.02,0.01,0.0,-0.01,
 0.02,0.0,-0.02,0.01,0.03,0.0,-0.01,0.02,-0.01,0.06,
 0.0,-0.02,0.01,0.02,-0.01,0.0,-0.03,0.01,0.0];
const hNomBlue = [[1.2,-0.3],[1.8,-0.2],[2.4,-0.05],[3.0,0.12],[3.6,0.21],[4.0,0.22],[4.5,0.17],[5.0,0.07],[5.5,-0.05],[6.0,-0.14],[6.4,-0.165],[7.0,-0.12],[7.5,-0.04],[8.0,0.06],[8.5,0.115],[9.0,0.1],[9.5,0.04],[10.0,-0.03],[10.5,-0.08],[11.0,-0.085],[11.5,-0.04],[12.0,0.02],[12.6,0.065],[13.2,0.06],[13.8,0.01],[14.5,-0.04],[15.2,-0.045],[16.0,-0.01],[16.8,0.03],[17.4,0.03],[18.2,0.0],[19.0,-0.02],[20.0,-0.01],[21.0,0.01],[22.0,0.0],[30.0,0.0],[30.3,0.18],[30.8,0.27],[31.3,0.28],[31.8,0.2],[32.3,0.05],[32.8,-0.1],[33.3,-0.19],[33.8,-0.21],[34.3,-0.15],[34.8,-0.03],[35.3,0.09],[35.8,0.15],[36.3,0.15],[36.8,0.08],[37.3,-0.03],[37.8,-0.1],[38.3,-0.115],[38.8,-0.07],[39.3,0.01],[39.8,0.07],[40.4,0.09],[41.0,0.05],[41.6,-0.02],[42.2,-0.06],[42.8,-0.055],[43.4,-0.01],[44.0,0.03],[44.6,0.04],[45.2,0.02],[45.8,-0.01],[46.4,-0.025],[47.0,-0.02],[47.6,0.0],[48.2,0.015],[49.0,0.01],[50.0,-0.005],[51.0,0],[60,0]];
const hNomOrange = [[1.2,-0.07],[2.0,-0.06],[2.8,-0.01],[3.5,0.005],[4.5,0],[30,0],[30.2,0.25],[30.6,0.15],[31.2,0.07],[32,0.03],[33,0.01],[34,0],[60,0]];
const hNomGreen = [[1.2,-0.12],[2.0,-0.05],[2.8,-0.01],[3.5,0],[30,0],[30.2,0.15],[30.8,0.1],[31.5,0.06],[32.5,0.03],[34,0.01],[35,0],[60,0]];

// ---------- (i) inertia, acceleration (estimated force) ----------
const iBlue = [0.005,-0.01,0.01,-0.005,0.015,-0.01,0.005,-0.055,0.01,-0.005,
 0.01,0.0,-0.01,0.01,-0.005,0.005,0.01,-0.01,0.005,0.0,
 -0.005,0.01,0.0,-0.005,0.005,0.0,-0.005,0.005,0.0,0.01,
 -0.005,0.005,0.0,-0.005,0.01,0.0,-0.005,0.005,0.0,-0.005,
 0.01,0.0,0.005,-0.005,0.01,0.0,-0.005,0.005,0.01,0.0,
 0.005,0.01,0.02,0.06,0.17,-0.08,0.13,-0.06,0.05,-0.04,
 0.06,-0.03,0.04,0.0,0.03,-0.04,0.02,-0.01,0.03,0.1,
 -0.02,-0.07,0.06,0.0,0.03,0.105,-0.01,-0.065,0.02,0.0,
 0.02,-0.02,0.01,0.0,0.02,-0.01,0.03,0.0,0.02,-0.01,
 0.01,0.02,0.0,-0.01,0.01,0.0,0.01,-0.01,0.005,0.0,
 -0.005];
const iOrange = [0.0,-0.03,0.015,-0.01,0.02,-0.015,0.01,-0.01,0.015,-0.01,
 0.01,-0.005,0.01,-0.01,0.005,0.0,0.01,-0.01,0.005,-0.005,
 0.01,0.0,-0.01,0.005,0.0,0.01,-0.005,0.005,-0.01,0.0,
 0.01,-0.005,0.0,0.005,-0.01,0.005,0.0,-0.005,0.01,0.0,
 -0.01,0.005,0.0,-0.005,0.01,0.0,-0.01,0.005,0.0,0.01,
 -0.005,0.02,0.08,0.16,-0.14,0.14,-0.04,0.06,-0.05,0.06,
 -0.02,0.04,-0.03,0.02,0.0,0.03,-0.02,0.01,-0.01,0.02,
 0.0,0.03,-0.02,0.01,0.02,-0.01,0.02,0.0,-0.02,0.01,
 0.0,0.02,-0.01,0.03,0.0,-0.01,0.02,0.04,-0.01,0.01,
 0.02,-0.02,0.01,0.0,-0.01,0.02,-0.01,0.01,0.0,-0.01,
 0.0];
const iGreen = [0.01,-0.005,0.01,-0.01,0.015,-0.005,0.01,-0.03,0.015,-0.01,
 0.01,0.0,-0.01,0.005,-0.03,0.01,-0.005,0.01,0.0,-0.01,
 0.005,0.0,-0.005,0.01,0.0,-0.005,0.005,0.0,-0.01,0.005,
 0.0,0.01,-0.005,0.0,0.005,-0.01,0.0,0.005,0.0,-0.005,
 0.005,0.01,0.0,-0.01,0.005,0.0,0.01,-0.005,0.0,0.005,
 0.0,0.03,0.1,0.05,0.03,-0.115,0.08,-0.05,0.04,-0.02,
 0.03,-0.02,0.01,0.02,-0.03,0.02,0.0,-0.02,0.01,0.02,
 -0.01,0.0,0.02,-0.02,0.01,0.0,-0.015,0.02,0.0,-0.01,
 0.02,0.0,-0.02,0.01,0.02,-0.065,0.0,0.055,-0.01,-0.045,
 0.02,0.0,-0.02,0.01,0.02,-0.01,0.0,-0.05,0.01,0.02,
 0.0];
const iNomBlue = [[0.3,-0.25],[0.5,-0.08],[0.7,0.02],[0.9,0.065],[1.05,0.075],[1.5,0.062],[2.0,0.046],[2.5,0.031],[3.0,0.016],[3.75,0.0],[10.0,0.0],[10.1,0.35],[10.6,0.0],[11.2,-0.079],[11.8,-0.055],[12.5,-0.03],[13.4,0.0],[20,0]];
const iNomOrange = [[0.3,-0.25],[0.6,-0.08],[0.9,0.01],[1.3,0.05],[1.7,0.065],[2.2,0.052],[2.8,0.035],[3.5,0.016],[4.3,0.0],[10.0,0],[10.15,0.35],[10.8,0.0],[11.9,-0.067],[12.5,-0.05],[13.4,-0.025],[14.3,0.0],[20,0]];
const iNomGreen = [[0.3,-0.25],[0.7,-0.08],[1.1,0.0],[1.6,0.04],[2.2,0.055],[2.8,0.042],[3.4,0.028],[4.1,0.012],[4.8,0.0],[10.0,0],[10.2,0.35],[10.9,0.0],[11.6,-0.045],[12.3,-0.04],[13.0,-0.02],[13.8,0.0],[20,0]];

// ---------- captions ----------
const captionLines = [
  ['(a) Stiffness tests: virtual', 'and estimated force.'],
  ['(b) Damping tests: virtual', 'and estimated force.'],
  ['(c) Inertia tests: virtual and', 'estimated force.'],
  ['(d) Stiffness tests with per-', 'fectly known force: nominal', 'and real position.'],
  ['(e) Damping tests with per-', 'fectly known force: nominal', 'and real velocity.'],
  ['(f) Inertia tests with per-', 'fectly known force: nominal', 'and real acceleration.'],
  ['(g) Stiffness tests with es-', 'timated force: nominal and', 'real position.'],
  ['(h) Damping tests with es-', 'timated force: nominal and', 'real velocity.'],
  ['(i) Inertia tests with esti-', 'mated force: nominal and', 'real acceleration.'],
];

// ---------- layout (not data) ----------
const COLS = [7, 363, 720];
const CAP_W = 336;
const CAP_BASE = [[249, 279.5], [597, 627.5, 658], [915, 945.5, 976]];

const COLORS = [BLUE, ORANGE, GREEN];

const PANELS: any[] = [
  { box: [34, 5, 343, 183], xd: [-2.26, 47.6], yd: [-3, 1], xt: xTicksLong, xl: xTickLabelsLong, yt: yTicksForce, ylab: 'Force [N]', ylo: 24, yto: 5.5,
    samp: sampA, real: [aBlue, aOrange, aGreen], nom: [aNominal, aNominal, aNominal], nomColors: [YELLOW, YELLOW, YELLOW], sym: 'K', vals: kValues, kind: 'f',
    lg: [7.7, 2], lw: 1.2, alpha: 0.9, vw: 1.6, vc: '#8a8a8a' },
  { box: [392, 5, 699, 183], xd: [0, 60], yd: [-3, 1], xt: xTicksD, xl: xTickLabelsD, yt: yTicksForce, ylab: 'Force [N]', ylo: 24, yto: 5,
    samp: sampB, real: [bBlue, bOrange, bGreen], nom: [bNominal, bNominal, bNominal], nomColors: [YELLOW, YELLOW, YELLOW], sym: 'D', vals: dValues, kind: 'f',
    lg: [6.3, 2], lw: 1.2, alpha: 0.9, vw: 1.6, vc: '#8a8a8a' },
  { box: [747, 5, 1053, 183], xd: [0, 20], yd: [-3, 1], xt: xTicksM, xl: xTickLabelsM, yt: yTicksForce, ylab: 'Force [N]', ylo: 23, yto: 5.5,
    samp: sampC, real: [cBlue, cOrange, cGreen], nom: [cNominal, cNominal, cNominal], nomColors: [YELLOW, YELLOW, YELLOW], sym: 'M', vals: mValues, kind: 'f',
    lg: [7, 5], lw: 1.1, alpha: 1, vw: 1.6, vc: '#8a8a8a' },
  { box: [43, 328, 343, 501], xd: [-2, 47.4], yd: [-0.5, 0.1], xt: xTicksLong, xl: xTickLabelsLong, yt: yTicksPos, ylab: 'Position [m]', ylo: 30, yto: 6,
    samp: sampD, real: [dBlue, dOrange, dGreen], nom: [dNomBlue, dNomOrange, dNomGreen], nomColors: COLORS, sym: 'K', vals: kValues, kind: 'p',
    lg: [7, 2], lw: 1.1, alpha: 1, vw: 1, vc: '#555555' },
  { box: [400, 328, 699, 501], xd: [0.2, 60], yd: [-0.4, 0.527], xt: xTicksD, xl: xTickLabelsD, yt: yTicksVelE, ylab: 'Velocity [m/s]', ylo: 32, yto: 7,
    samp: sampE, real: [eBlue, eOrange, eGreen], nom: [eNomBlue, eNomOrange, eNomGreen], nomColors: COLORS, sym: 'D', vals: dValues, kind: 'pd',
    lg: [6.7, 2], lw: 1.2, alpha: 1, vw: 1, vc: '#555555', smooth: true },
  { box: [756, 330, 1053, 501], xd: [0, 20], yd: [-0.2, 0.2], xt: xTicksM, xl: xTickLabelsM, yt: yTicksAcc, ylab: 'Acceleration[m/s²]', ylo: 30, yto: 5,
    samp: sampF, real: [fBlue, fOrange, fGreen], nom: [fNomBlue, fNomOrange, fNomGreen], nomColors: COLORS, sym: 'M', vals: mValues, kind: 'pdd',
    lg: [15.7, 3], lw: 1.2, alpha: 0.85, vw: 1.6, vc: '#8a8a8a' },
  { box: [43, 678, 343, 850], xd: [-2.4, 47.4], yd: [-0.5, 0.1], xt: xTicksLong, xl: xTickLabelsLong, yt: yTicksPos, ylab: 'Position [m]', ylo: 30, yto: 6,
    samp: sampG, real: [gBlue, gOrange, gGreen], nom: [gNomBlue, gNomOrange, gNomGreen], nomColors: COLORS, sym: 'K', vals: kValues, kind: 'p',
    lg: [7, 2], lw: 1.1, alpha: 1, vw: 1.6, vc: '#8a8a8a' },
  { box: [400, 678, 699, 850], xd: [1.2, 60], yd: [-0.6, 0.586], xt: xTicksD, xl: xTickLabelsD, yt: yTicksVelH, ylab: 'Velocity [m/s]', ylo: 32, yto: 7,
    samp: sampH, real: [hBlue, hOrange, hGreen], nom: [hNomBlue, hNomOrange, hNomGreen], nomColors: COLORS, sym: 'D', vals: dValues, kind: 'pd',
    lg: [6.7, 2], lw: 1.2, alpha: 1, vw: 1.6, vc: '#8a8a8a', smooth: true },
  { box: [756, 680, 1053, 850], xd: [0, 20], yd: [-0.2, 0.2], xt: xTicksM, xl: xTickLabelsM, yt: yTicksAcc, ylab: 'Acceleration[m/s²]', ylo: 30, yto: 5,
    samp: sampI, real: [iBlue, iOrange, iGreen], nom: [iNomBlue, iNomOrange, iNomGreen], nomColors: COLORS, sym: 'M', vals: mValues, kind: 'pdd',
    lg: [8.3, 3], lw: 1.2, alpha: 0.85, vw: 1.6, vc: '#8a8a8a' },
];

function addMath(text: any, parts: any[], fs: number) {
  let shift = 0;
  parts.forEach((p) => {
    const want = p.sub ? fs * 0.3 : 0;
    const ts = text.append('tspan').text(p.s)
      .attr('font-size', p.sub ? fs * 0.72 : fs)
      .attr('font-style', p.it ? 'italic' : 'normal');
    if (want !== shift) { ts.attr('dy', want - shift); shift = want; }
  });
}

function baseSymbol(kind: string) {
  if (kind === 'f') return 'f';
  if (kind === 'p') return 'p';
  if (kind === 'pd') return 'ṗ';
  return 'p\u0308';
}

function drawPanel(svg: any, P: any, idx: number) {
  const [L, T, R, B] = P.box;
  const x = d3.scaleLinear().domain(P.xd).range([L, R]);
  const y = d3.scaleLinear().domain(P.yd).range([B, T]);
  const g = svg.append('g');
  const clipId = 'clip' + idx;
  svg.append('defs').append('clipPath').attr('id', clipId).append('rect')
    .attr('x', L).attr('y', T).attr('width', R - L).attr('height', B - T);

  // grid
  g.append('g').selectAll('line').data(P.xt.filter((v: number) => x(v) > L + 1 && x(v) < R - 1)).join('line')
    .attr('x1', (d: number) => x(d)).attr('x2', (d: number) => x(d)).attr('y1', T).attr('y2', B)
    .attr('stroke', '#e2e2e2').attr('stroke-width', 1);
  g.append('g').selectAll('line').data(P.yt.filter((v: number) => y(v) > T + 1 && y(v) < B - 1)).join('line')
    .attr('x1', L).attr('x2', R).attr('y1', (d: number) => y(d)).attr('y2', (d: number) => y(d))
    .attr('stroke', '#e2e2e2').attr('stroke-width', 1);

  const plot = g.append('g').attr('clip-path', `url(#${clipId})`);
  const line = d3.line<any>().x((d) => x(d[0])).y((d) => y(d[1]));
  const smoothLine = d3.line<any>().x((d) => x(d[0])).y((d) => y(d[1])).curve(d3.curveMonotoneX);
  P.real.forEach((vals: number[], k: number) => {
    const pts = vals.map((v, i) => [P.samp[0] + i * P.samp[1], v]);
    plot.append('path').attr('d', line(pts)).attr('fill', 'none')
      .attr('stroke', COLORS[k]).attr('stroke-width', P.lw).attr('stroke-opacity', P.alpha)
      .attr('stroke-linejoin', 'round');
    const nomC = P.nomColors[k];
    plot.append('path').attr('d', (P.smooth ? smoothLine : line)(P.nom[k])).attr('fill', 'none')
      .attr('stroke', nomC).attr('stroke-width', nomC === YELLOW ? 1.3 : 1.1)
      .attr('stroke-dasharray', nomC === YELLOW ? '3,2' : '4,2.5');
  });

  // switching instant
  const sx = x(switchTimes[idx]);
  g.append('line').attr('x1', sx).attr('x2', sx).attr('y1', T).attr('y2', B)
    .attr('stroke', P.vc).attr('stroke-width', P.vw);

  // axes
  const ax = g.append('g').attr('stroke', '#262626').attr('stroke-width', 1);
  ax.append('line').attr('x1', L).attr('x2', L).attr('y1', T).attr('y2', B + 0.5);
  ax.append('line').attr('x1', L - 0.5).attr('x2', R).attr('y1', B).attr('y2', B);
  P.xt.forEach((v: number) => {
    ax.append('line').attr('x1', x(v)).attr('x2', x(v)).attr('y1', B).attr('y2', B - 3).attr('stroke-width', 0.8);
  });
  P.yt.forEach((v: number) => {
    ax.append('line').attr('x1', L).attr('x2', L + 3).attr('y1', y(v)).attr('y2', y(v)).attr('stroke-width', 0.8);
  });

  // tick labels
  P.xt.forEach((v: number, i: number) => {
    g.append('text').attr('x', x(v)).attr('y', B + 13.5).attr('text-anchor', 'middle')
      .attr('font-family', SANS).attr('font-size', 9.8).attr('fill', '#262626').text(P.xl[i]);
  });
  P.yt.forEach((v: number) => {
    g.append('text').attr('x', L - P.yto).attr('y', y(v) + 3.4).attr('text-anchor', 'end')
      .attr('font-family', SANS).attr('font-size', 9.8).attr('fill', '#262626').text(String(v));
  });
  // axis labels
  g.append('text').attr('x', (L + R) / 2).attr('y', B + 25.5).attr('text-anchor', 'middle')
    .attr('font-family', SERIF).attr('font-size', 11.5).attr('fill', '#262626').text('Time [s]');
  g.append('text').attr('transform', `translate(${L - P.ylo},${(T + B) / 2}) rotate(-90)`)
    .attr('text-anchor', 'middle').attr('dy', 3.5)
    .attr('font-family', SERIF).attr('font-size', 10.5).attr('fill', '#262626').text(P.ylab);

  // legend boxes
  let bx = L + P.lg[0];
  const by = T + P.lg[1];
  const base = baseSymbol(P.kind);
  P.vals.forEach((val: number, k: number) => {
    const grp = g.append('g');
    const head = grp.append('text').attr('y', by + 9.6).attr('font-family', SERIF).attr('fill', '#111').attr('text-anchor', 'middle');
    addMath(head, [{ s: P.sym, it: true }, { s: 'A', it: true, sub: true }, { s: ' = ' + val }], 9.2);
    const hw = (head.node() as SVGTextElement).getComputedTextLength();
    const w = Math.max(hw + 7, 34);
    head.attr('x', bx + w / 2);
    grp.insert('rect', ':first-child').attr('x', bx).attr('y', by).attr('width', w).attr('height', 37)
      .attr('fill', '#fff').attr('stroke', '#262626').attr('stroke-width', 0.9);
    grp.append('line').attr('x1', bx).attr('x2', bx + w).attr('y1', by + 12.3).attr('y2', by + 12.3)
      .attr('stroke', '#262626').attr('stroke-width', 0.9);
    const c1 = COLORS[k];
    const c2 = P.nomColors[k];
    grp.append('line').attr('x1', bx + 3.5).attr('x2', bx + 15).attr('y1', by + 19.3).attr('y2', by + 19.3)
      .attr('stroke', c1).attr('stroke-width', 1.6).attr('stroke-opacity', P.alpha < 1 ? 0.65 : 1);
    grp.append('line').attr('x1', bx + 3.5).attr('x2', bx + 15).attr('y1', by + 31).attr('y2', by + 31)
      .attr('stroke', c2).attr('stroke-width', 1.3).attr('stroke-dasharray', '2.5,1.6');
    const t1 = grp.append('text').attr('x', bx + 16.5).attr('y', by + 21.5).attr('font-family', SERIF).attr('fill', '#111');
    addMath(t1, [{ s: base, it: true }, { s: P.kind === 'f' ? 'x' : 'P,x', it: true, sub: true }], 8.8);
    const t2 = grp.append('text').attr('x', bx + 16.5).attr('y', by + 33.2).attr('font-family', SERIF).attr('fill', '#111');
    addMath(t2, [{ s: base, it: true }, { s: 'n,x', it: true, sub: true }], 8.8);
    bx += w + 3;
  });
}

function drawCaption(svg: any, lines: string[], col: number, row: number) {
  const k = 1.15;
  const fs = 25;
  const x0 = COLS[col];
  const g = svg.append('g').attr('transform', `translate(${x0},0) scale(${k},1)`);
  const W = CAP_W / k;
  lines.forEach((ln, li) => {
    const justify = li < lines.length - 1;
    const words = ln.split(' ');
    const yb = CAP_BASE[row][li];
    const texts = words.map((w) => g.append('text').attr('y', yb).attr('font-family', SERIF)
      .attr('font-size', fs).attr('fill', '#000').text(w));
    const widths = texts.map((t: any) => (t.node() as SVGTextElement).getComputedTextLength());
    const sum = d3.sum(widths);
    const gap = justify && words.length > 1 ? (W - sum) / (words.length - 1) : fs * 0.26;
    let cx = 0;
    texts.forEach((t: any, i: number) => { t.attr('x', cx); cx += widths[i] + gap; });
  });
}

export default function App() {
  const ref = useRef<SVGSVGElement>(null);
  useEffect(() => {
    const svg = d3.select(ref.current);
    svg.selectAll('*').remove();
    PANELS.forEach((p, i) => drawPanel(svg, p, i));
    captionLines.forEach((lines, i) => drawCaption(svg, lines, i % 3, Math.floor(i / 3)));
  }, []);
  return (
    <div style={{ position: 'absolute', left: 0, top: 0 }}>
      <svg ref={ref} width={1062} height={992} style={{ display: 'block', background: '#fff' }} />
    </div>
  );
}
